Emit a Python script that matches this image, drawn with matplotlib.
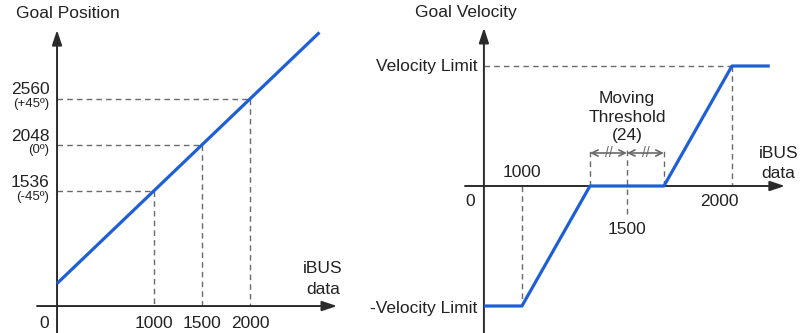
import matplotlib
matplotlib.use("Agg")
import matplotlib.pyplot as plt

# --- data -------------------------------------------------------------
# Left: iBUS data -> Goal Position (linear)
pos_ibus = [0, 2720]
pos_goal = [512, 3277]
pos_ticks = [1000, 1500, 2000]
pos_levels = [1536, 2048, 2560]
pos_level_notes = ["(-45º)", "(0º)", "(+45º)"]

# Right: iBUS data -> Goal Velocity (normalised to Velocity Limit)
vel_ibus = [819, 1000, 1324, 1676, 2000, 2180]
vel_goal = [-1, -1, 0, 0, 1, 1]
vel_ticks = [1000, 1500, 2000]
dead_lo, dead_mid, dead_hi = 1324, 1500, 1676

BLUE = "#1f5fd6"
AXIS = "#2b2b2b"
DASH = "#6a6a6a"
TXT = "#222222"
FS = 12.5

plt.rcParams["font.family"] = ["Liberation Sans", "DejaVu Sans"]

fig = plt.figure(figsize=(8.0, 3.33), dpi=100)


def arrow_line(ax, x0, y0, x1, y1):
    ax.annotate("", xy=(x1, y1), xytext=(x0, y0),
                arrowprops=dict(arrowstyle="-|>,head_length=0.9,head_width=0.3",
                                color=AXIS, lw=1.4, shrinkA=0, shrinkB=0))


def dashed(ax, xs, ys):
    ax.plot(xs, ys, color=DASH, lw=1.0, ls=(0, (4, 3)), zorder=1)


# --- left panel -------------------------------------------------------
ax1 = fig.add_axes([0, 0, 360 / 800, 1])
ax1.set_xlim(-591, 3140)
ax1.set_ylim(-33, 3634)
ax1.axis("off")

x_axis_y = 264
arrow_line(ax1, -207, x_axis_y, 2902, x_axis_y)
arrow_line(ax1, 0, -33, 0, 3303)

for t in pos_ticks:
    g = pos_goal[0] + (t - pos_ibus[0]) * (pos_goal[1] - pos_goal[0]) / (pos_ibus[1] - pos_ibus[0])
    dashed(ax1, [0, t], [g, g])
    dashed(ax1, [t, t], [g, x_axis_y])
    ax1.text(t, -8, f"{t}", ha="center", va="bottom", fontsize=FS, color=TXT)

ax1.plot(pos_ibus, pos_goal, color=BLUE, lw=2.3, solid_capstyle="butt", zorder=3)

for lvl, note in zip(pos_levels, pos_level_notes):
    ax1.text(-80, lvl + 88, f"{lvl}", ha="right", va="center", fontsize=FS, color=TXT)
    ax1.text(-80, lvl - 66, note, ha="right", va="center", fontsize=9.5, color=TXT)

ax1.text(-130, -8, "0", ha="center", va="bottom", fontsize=FS, color=TXT)
ax1.text(2755, 560, "iBUS\ndata", ha="center", va="center", fontsize=FS,
         color=TXT, linespacing=1.45)
ax1.text(-420, 3490, "Goal Position", ha="left", va="center", fontsize=FS, color=TXT)

# --- right panel ------------------------------------------------------
ax2 = fig.add_axes([360 / 800, 0, 440 / 800, 1])
ax2.set_xlim(229, 2324)
ax2.set_ylim(-1.225, 1.55)
ax2.axis("off")

y_axis_x = vel_ibus[0]
arrow_line(ax2, 729, 0, 2252, 0)
arrow_line(ax2, y_axis_x, -1.225, y_axis_x, 1.317)

# reference lines
dashed(ax2, [y_axis_x, vel_ticks[2]], [1, 1])
dashed(ax2, [vel_ticks[2], vel_ticks[2]], [1, 0])
dashed(ax2, [vel_ticks[0], vel_ticks[0]], [0, -1])
dashed(ax2, [dead_lo, dead_lo], [0, 0.317])
dashed(ax2, [dead_hi, dead_hi], [0, 0.317])
dashed(ax2, [dead_mid, dead_mid], [-0.233, 0.317])

ax2.plot(vel_ibus, vel_goal, color=BLUE, lw=2.3, solid_capstyle="butt", zorder=3)

# moving threshold span
for a, b in [(dead_lo, dead_mid), (dead_mid, dead_hi)]:
    ax2.annotate("", xy=(b, 0.275), xytext=(a, 0.275),
                 arrowprops=dict(arrowstyle="<->,head_length=0.45,head_width=0.22",
                                 color=DASH, lw=1.2, shrinkA=0, shrinkB=0))
    ax2.text((a + b) / 2, 0.275, "//", ha="center", va="center",
             fontsize=10, color=DASH)

ax2.text(dead_mid, 0.575, "Moving\nThreshold\n(24)", ha="center", va="center",
         fontsize=FS, color=TXT, linespacing=1.3)

ax2.text(vel_ticks[0], 0.11, "1000", ha="center", va="center", fontsize=FS, color=TXT)
ax2.text(vel_ticks[1], -0.36, "1500", ha="center", va="center", fontsize=FS, color=TXT)
ax2.text(vel_ticks[2] - 62, -0.125, "2000", ha="center", va="center", fontsize=FS, color=TXT)
ax2.text(752, -0.125, "0", ha="center", va="center", fontsize=FS, color=TXT)
ax2.text(2221, 0.19, "iBUS\ndata", ha="center", va="center", fontsize=FS,
         color=TXT, linespacing=1.45)

ax2.text(y_axis_x - 30, 1, "Velocity Limit", ha="right", va="center", fontsize=FS, color=TXT)
ax2.text(y_axis_x - 30, -1.02, "-Velocity Limit", ha="right", va="center", fontsize=FS, color=TXT)
ax2.text(490, 1.45, "Goal Velocity", ha="left", va="center", fontsize=FS, color=TXT)

fig.savefig("out.png", dpi=100, facecolor="white")
